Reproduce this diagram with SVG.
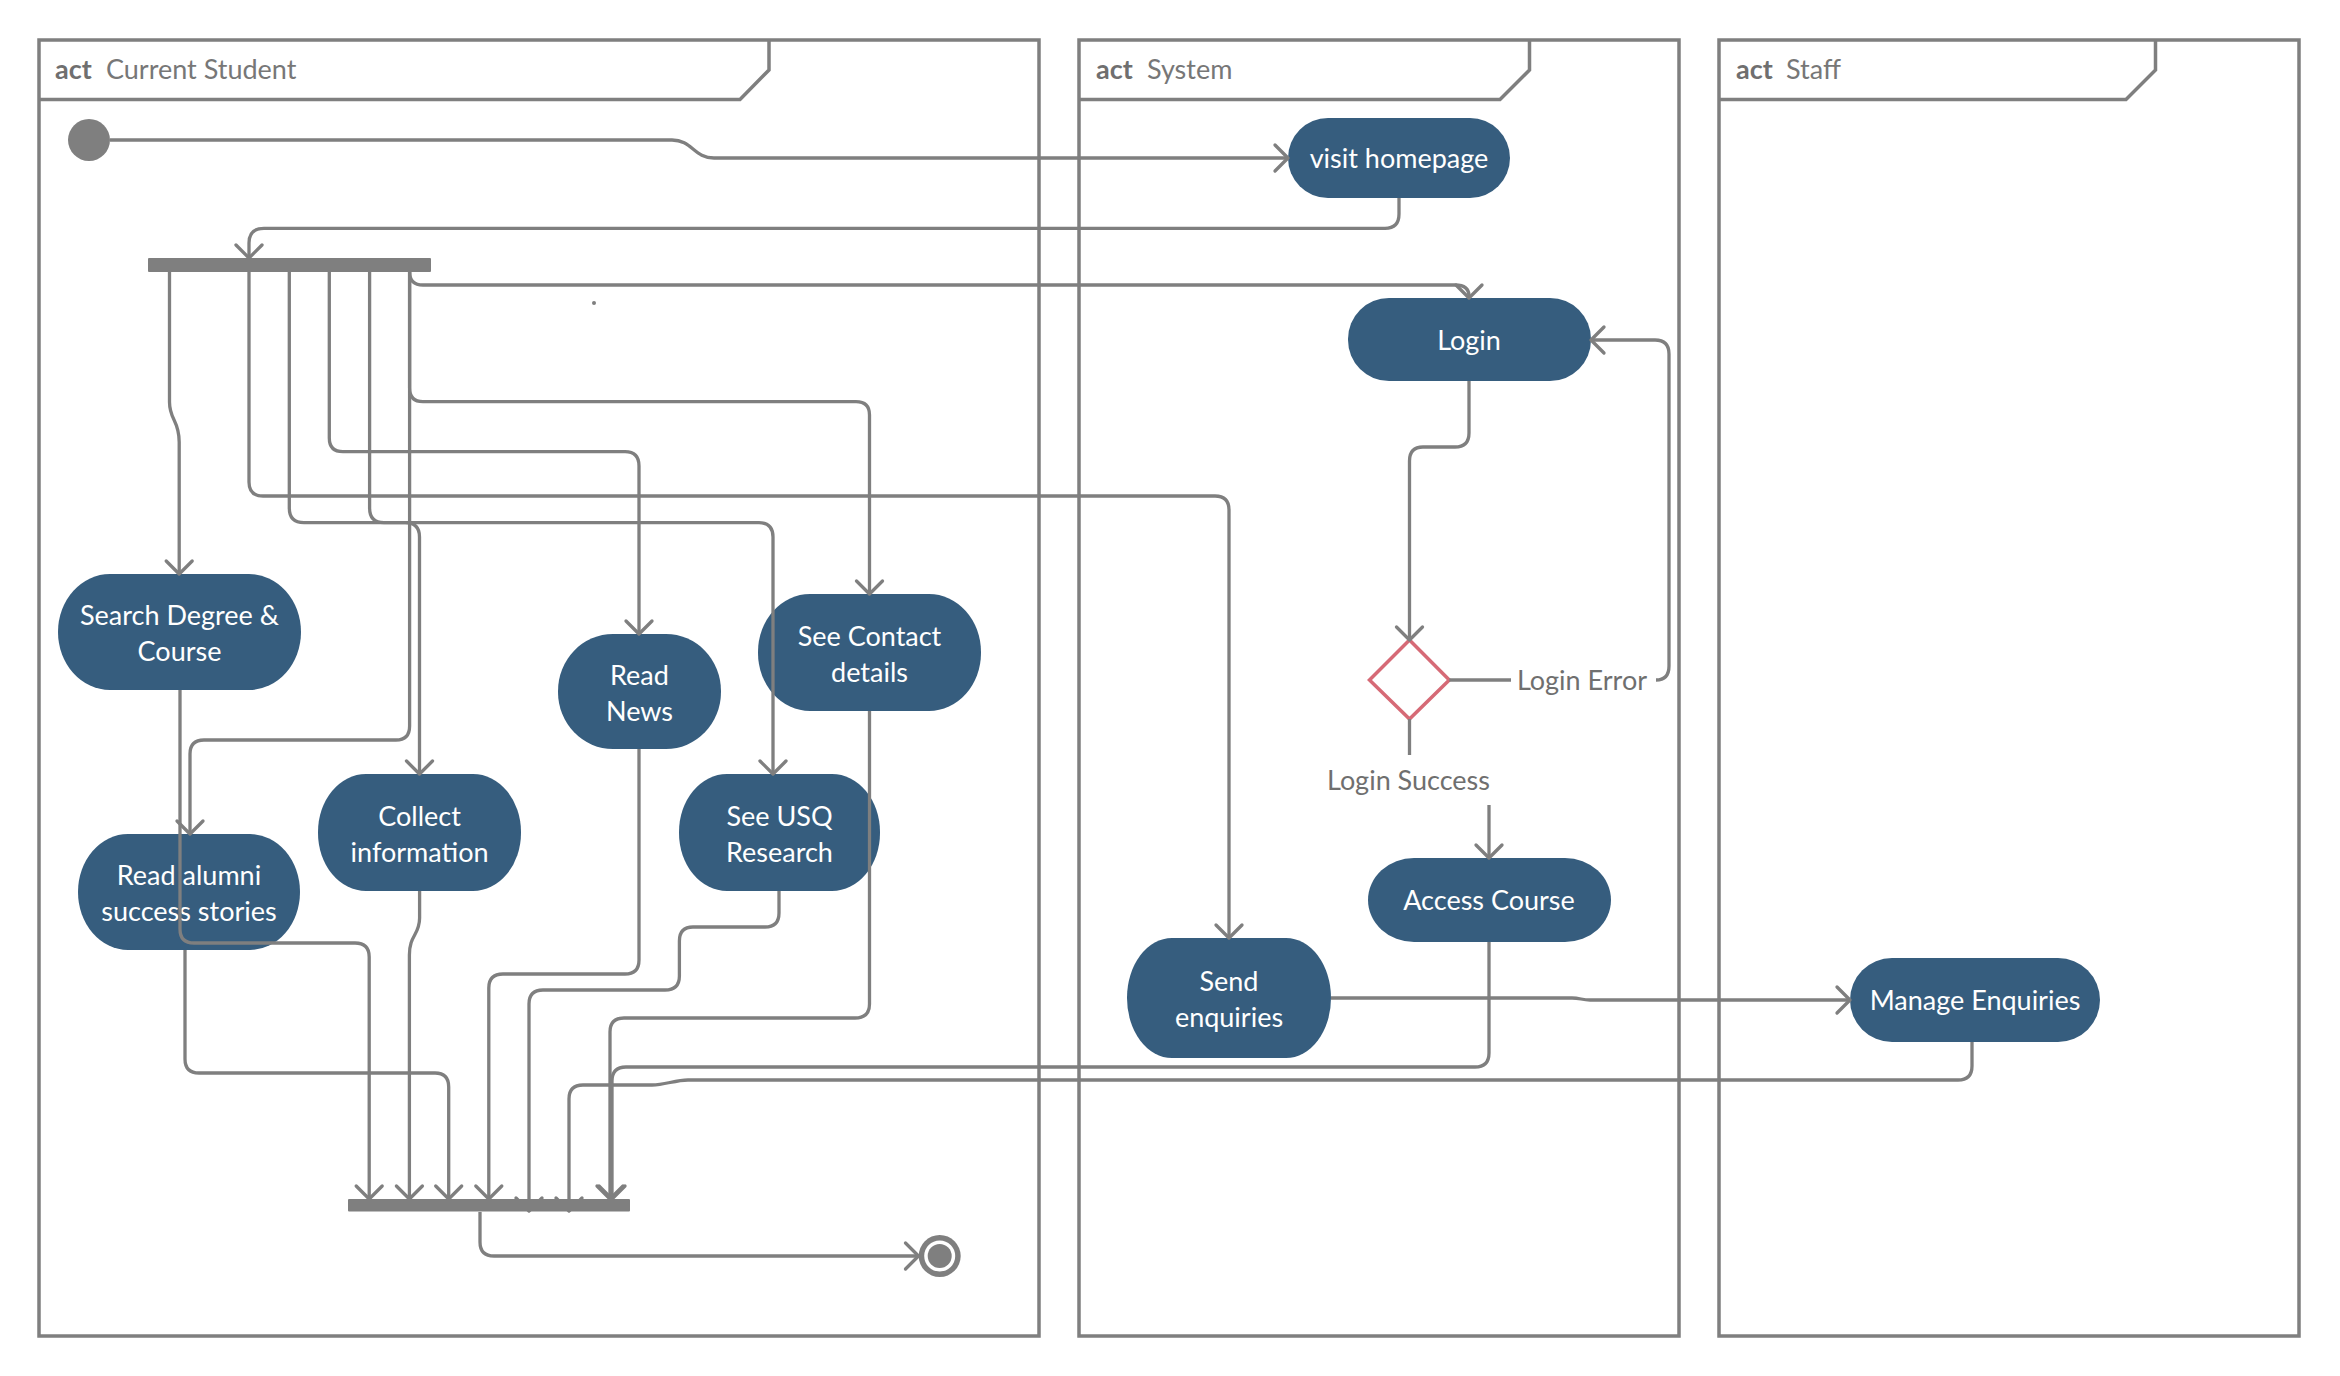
<svg xmlns="http://www.w3.org/2000/svg" width="2340" height="1376" viewBox="0 0 2340 1376">
  <style>
    .frame { fill: none; stroke: #7f7f7f; stroke-width: 3.5; }
    .act { font-family: Lato, "Liberation Sans", sans-serif; font-size: 27px; font-weight: bold; fill: #6f6f6f; }
    .title { font-family: Lato, "Liberation Sans", sans-serif; font-size: 27px; fill: #777777; }
    .node { fill: #365d7e; }
    .ntext { font-family: Lato, "Liberation Sans", sans-serif; font-size: 27px; fill: #ffffff; text-anchor: middle; }
    .label { font-family: Lato, "Liberation Sans", sans-serif; font-size: 27px; fill: #6f6f6f; text-anchor: middle; }
    .bar { fill: #7f7f7f; }
    .conn path { fill: none; stroke: #7f7f7f; stroke-width: 3.3; stroke-linejoin: round; }
    .conn path.a { marker-end: url(#arrow); }
  </style>
  <defs>
    <marker id="arrow" markerUnits="userSpaceOnUse" markerWidth="40" markerHeight="40" viewBox="-20 -20 40 40" refX="0" refY="0" orient="auto">
      <path d="M-13,-13 L0,0 L-13,13" fill="none" stroke="#7f7f7f" stroke-width="3.3" stroke-linecap="round" stroke-linejoin="round"/>
    </marker>
  </defs>
  <rect width="2340" height="1376" fill="#ffffff"/>

  <!-- swimlane frames -->
  <g id="frame-student">
    <rect class="frame" x="39" y="40" width="1000" height="1296"/>
    <path class="frame" d="M39,99.5 H740 L769,70 V40"/>
    <text class="act" x="55" y="79">act</text>
    <text class="title" x="106" y="79">Current Student</text>
  </g>
  <g id="frame-system">
    <rect class="frame" x="1079" y="40" width="600" height="1296"/>
    <path class="frame" d="M1079,99.5 H1500 L1529.5,70 V40"/>
    <text class="act" x="1096" y="79">act</text>
    <text class="title" x="1147" y="79">System</text>
  </g>
  <g id="frame-staff">
    <rect class="frame" x="1719" y="40" width="580" height="1296"/>
    <path class="frame" d="M1719,99.5 H2126 L2155.5,70 V40"/>
    <text class="act" x="1736" y="79">act</text>
    <text class="title" x="1786" y="79">Staff</text>
  </g>

  <!-- activity nodes -->
  <g id="start"><circle cx="89" cy="140" r="21" fill="#7f7f7f"/></g>
  <g id="visit-homepage">
    <rect class="node" x="1288" y="118" width="222" height="80" rx="40"/>
    <text class="ntext" x="1399" y="168">visit homepage</text>
  </g>
  <g id="fork"><rect class="bar" x="148" y="258" width="283" height="14" rx="1"/></g>
  <g id="login">
    <rect class="node" x="1348" y="298" width="243" height="83" rx="41"/>
    <text class="ntext" x="1469" y="350">Login</text>
  </g>
  <g id="search-degree">
    <rect class="node" x="58" y="574" width="243" height="116" rx="52" ry="58"/>
    <text class="ntext" x="179.5" y="625">Search Degree &amp;</text>
    <text class="ntext" x="179.5" y="661">Course</text>
  </g>
  <g id="read-news">
    <rect class="node" x="558" y="634" width="163" height="115" rx="55" ry="57"/>
    <text class="ntext" x="639.5" y="684.5">Read</text>
    <text class="ntext" x="639.5" y="720.5">News</text>
  </g>
  <g id="see-contact">
    <rect class="node" x="758" y="594" width="223" height="117" rx="52" ry="58"/>
    <text class="ntext" x="869.5" y="645.5">See Contact</text>
    <text class="ntext" x="869.5" y="681.5">details</text>
  </g>
  <g id="collect-information">
    <rect class="node" x="318" y="774" width="203" height="117" rx="48" ry="58"/>
    <text class="ntext" x="419.6" y="825.5">Collect</text>
    <text class="ntext" x="419.6" y="861.5">information</text>
  </g>
  <g id="see-usq-research">
    <rect class="node" x="679" y="774" width="201" height="117" rx="48" ry="58"/>
    <text class="ntext" x="779.5" y="825.5">See USQ</text>
    <text class="ntext" x="779.5" y="861.5">Research</text>
  </g>
  <g id="read-alumni">
    <rect class="node" x="78" y="834" width="222" height="116" rx="50" ry="58"/>
    <text class="ntext" x="189" y="885">Read alumni</text>
    <text class="ntext" x="189" y="921">success stories</text>
  </g>
  <g id="login-decision">
    <path d="M1409.5,640 L1449.3,680 L1409.5,719 L1369.5,680 Z" fill="#ffffff" stroke="#d66a76" stroke-width="3.5"/>
  </g>
  <g id="access-course">
    <rect class="node" x="1368" y="858" width="243" height="84" rx="46" ry="42"/>
    <text class="ntext" x="1489" y="910">Access Course</text>
  </g>
  <g id="send-enquiries">
    <rect class="node" x="1127" y="938" width="204" height="120" rx="45" ry="60"/>
    <text class="ntext" x="1229" y="991">Send</text>
    <text class="ntext" x="1229" y="1027">enquiries</text>
  </g>
  <g id="manage-enquiries">
    <rect class="node" x="1850" y="958" width="250" height="84" rx="42"/>
    <text class="ntext" x="1975" y="1010">Manage Enquiries</text>
  </g>
  <g id="end">
    <circle cx="939.7" cy="1256" r="21" fill="#7f7f7f"/>
    <circle cx="939.7" cy="1256" r="15.5" fill="#ffffff"/>
    <circle cx="939.7" cy="1256" r="12" fill="#7f7f7f"/>
  </g>
  <circle cx="594" cy="303" r="2" fill="#7f7f7f"/>

  <!-- control flows -->
  <g id="connectors" class="conn">
    <path class="a" d="M110,140 H672 C692,140 694,158 714,158 H1288"/>
    <path class="a" d="M1399,198 V214 Q1399,228.3 1385,228.3 H264 Q249,228.3 249,243 V258"/>
    <path class="a" d="M169.5,272 V402 C169.5,420 179.2,420 179.2,442 V574"/>
    <path class="a" d="M249,272 V482 Q249,496 263,496 H1215 Q1229,496 1229,510 V938"/>
    <path class="a" d="M289.3,272 V508 Q289.3,522.7 304,522.7 H759 Q773,522.7 773,537 V774"/>
    <path class="a" d="M329.3,272 V438 Q329.3,451.7 343,451.7 H625 Q639,451.7 639,466 V634"/>
    <path class="a" d="M369.6,272 V508 Q369.6,522.7 384,522.7 H405 Q419.5,522.7 419.5,537 V774"/>
    <path class="a" d="M409.6,272 V726 Q409.6,740 396,740 H204 Q190,740 190,754 V834"/>
    <path class="a" d="M409.6,272 V388 Q409.6,401.7 423,401.7 H856 Q869.5,401.7 869.5,415 V594"/>
    <path class="a" d="M409.6,272 Q409.6,285 423,285 H1455 Q1469,285 1469,296 V298"/>
    <path class="a" d="M1469,381 V433 Q1469,447 1455,447 H1423 Q1409.5,447 1409.5,461 V640"/>
    <path d="M1449.3,680 H1511"/>
    <path class="a" d="M1656,680 Q1669,680 1669,666 V354 Q1669,340 1655,340 H1591"/>
    <path d="M1409.5,719 V755"/>
    <path class="a" d="M1489,805 V858"/>
    <path class="a" d="M1331,998 H1572 C1580,998 1582,1000 1590,1000 H1850"/>
    <path class="a" d="M180,690 V929 Q180,943 194,943 H355 Q369.2,943 369.2,957 V1199"/>
    <path class="a" d="M419.6,891 V918 C419.6,935 409.4,935 409.4,955 V1199"/>
    <path class="a" d="M185,950 V1059 Q185,1073 199,1073 H435 Q448.7,1073 448.7,1087 V1199"/>
    <path class="a" d="M639,749 V960 Q639,974 625,974 H503 Q488.8,974 488.8,988 V1199"/>
    <path class="a" d="M779,891 V913 Q779,927 765,927 H693 Q679.4,927 679.4,941 V976 Q679.4,990 665,990 H543 Q529,990 529,1004 V1211"/>
    <path class="a" d="M1972,1042 V1066 Q1972,1080 1958,1080 H688 C675,1080 665,1085 652,1085 H583 Q569,1085 569,1099 V1211"/>
    <path class="a" d="M869.5,711 V1004 Q869.5,1018 855,1018 H624 Q610,1018 610,1032 V1199"/>
    <path class="a" d="M1489,942 V1053 Q1489,1067 1475,1067 H626 Q612,1067 612,1081 V1199"/>
    <path class="a" d="M480,1212 V1242 Q480,1256 494,1256 H918.5"/>
  </g>

  <!-- join bar drawn over the incoming flows -->
  <g id="join"><rect class="bar" x="348" y="1199" width="282" height="12.5" rx="1"/></g>

  <!-- guard labels -->
  <g id="guards">
    <text class="label" x="1582" y="690">Login Error</text>
    <text class="label" x="1408.5" y="790">Login Success</text>
  </g>
</svg>
